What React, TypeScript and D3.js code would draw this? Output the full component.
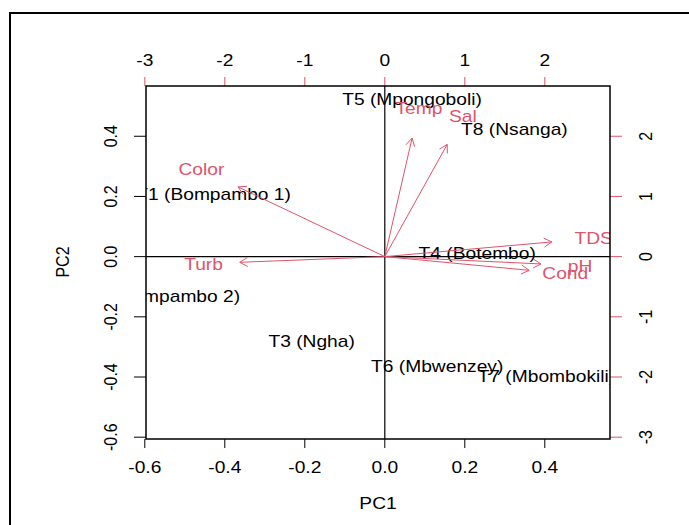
import React, {FC, useEffect, useRef} from 'react';
import * as d3 from 'd3';

// site scores (PC1, PC2)
const sites = ['T1 (Bompambo 1)', 'T2 (Bompambo 2)', 'T3 (Ngha)', 'T4 (Botembo)', 'T5 (Mpongoboli)', 'T6 (Mbwenzey)', 'T7 (Mbombokili)', 'T8 (Nsanga)'];
const sitePC1 = [-0.428, -0.555, -0.183, 0.231, 0.068, 0.131, 0.404, 0.324];
const sitePC2 = [0.209, -0.132, -0.281, 0.01, 0.522, -0.364, -0.398, 0.422];

// variable loadings (label positions, secondary axes)
const vars = ['Temp', 'Sal', 'TDS', 'pH', 'Cond', 'Color', 'Turb'];
const varPC1 = [0.426, 0.975, 2.61, 2.44, 2.256, -2.293, -2.266];
const varPC2 = [2.46, 2.33, 0.305, -0.152, -0.284, 1.447, -0.118];

const xTicks = [-0.6, -0.4, -0.2, 0.0, 0.2, 0.4];
const yTicks = [-0.6, -0.4, -0.2, 0.0, 0.2, 0.4];
const x2Ticks = [-3, -2, -1, 0, 1, 2];
const y2Ticks = [-3, -2, -1, 0, 1, 2];

const red = '#DF536B';
const font = '"Liberation Sans", Arial, sans-serif';
const fs = 16;
const sx = 1.2; // picture is a little wider than tall

const App: FC = () => {
  const ref = useRef<SVGSVGElement>(null);
  const W = 689, H = 525;
  const box = {left: 146, right: 610, top: 86, bottom: 439};

  useEffect(() => {
    const svg = d3.select(ref.current);
    svg.selectAll('*').remove();

    const x = d3.scaleLinear().domain([-0.597, 0.563]).range([box.left, box.right]);
    const y = d3.scaleLinear().domain([-0.606, 0.567]).range([box.bottom, box.top]);
    const x2 = d3.scaleLinear().domain([-0.597 * 5, 0.563 * 5]).range([box.left, box.right]);
    const y2 = d3.scaleLinear().domain([-0.606 * 5, 0.567 * 5]).range([box.bottom, box.top]);

    const label = (g: any, tx: number, ty: number, s: string, color: string, rot = 0) =>
      g.append('text')
        .attr('transform', `translate(${tx},${ty}) scale(${sx},1) rotate(${rot})`)
        .attr('text-anchor', 'middle')
        .attr('dy', '0.36em')
        .attr('font-family', font)
        .attr('font-size', fs)
        .attr('fill', color)
        .text(s);

    // outer frame
    svg.append('rect')
      .attr('x', 10).attr('y', 13).attr('width', 700).attr('height', 540)
      .attr('fill', 'none').attr('stroke', '#000').attr('stroke-width', 2);

    svg.append('defs').append('clipPath').attr('id', 'plotclip')
      .append('rect')
      .attr('x', box.left).attr('y', box.top)
      .attr('width', box.right - box.left).attr('height', box.bottom - box.top);

    const plot = svg.append('g').attr('clip-path', 'url(#plotclip)');

    // site labels
    sites.forEach((s, i) => label(plot, x(sitePC1[i]), y(sitePC2[i]), s, '#000'));

    // zero lines
    plot.append('line')
      .attr('x1', box.left).attr('x2', box.right).attr('y1', y(0)).attr('y2', y(0))
      .attr('stroke', '#000').attr('stroke-width', 1.2);
    plot.append('line')
      .attr('x1', x(0)).attr('x2', x(0)).attr('y1', box.top).attr('y2', box.bottom)
      .attr('stroke', '#000').attr('stroke-width', 1.2);

    // arrows to 0.8 of loadings
    const headLen = 9;
    const ang = Math.PI / 6;
    vars.forEach((v, i) => {
      const x0 = x2(0), y0 = y2(0);
      const x1 = x2(varPC1[i] * 0.8), y1 = y2(varPC2[i] * 0.8);
      const a = Math.atan2(y1 - y0, x1 - x0);
      const path = d3.path();
      path.moveTo(x0, y0);
      path.lineTo(x1, y1);
      path.moveTo(x1 - headLen * Math.cos(a - ang), y1 - headLen * Math.sin(a - ang));
      path.lineTo(x1, y1);
      path.lineTo(x1 - headLen * Math.cos(a + ang), y1 - headLen * Math.sin(a + ang));
      plot.append('path').attr('d', path.toString())
        .attr('fill', 'none').attr('stroke', red).attr('stroke-width', 1);
      label(plot, x2(varPC1[i]), y2(varPC2[i]), v, red);
    });

    // axes
    const axes = svg.append('g');
    xTicks.forEach(t => {
      axes.append('line').attr('x1', x(t)).attr('x2', x(t)).attr('y1', box.bottom).attr('y2', box.bottom + 9)
        .attr('stroke', '#000');
      label(axes, x(t), 467, d3.format('.1f')(t).replace('−', '-'), '#000');
    });
    yTicks.forEach(t => {
      axes.append('line').attr('x1', box.left - 12).attr('x2', box.left).attr('y1', y(t)).attr('y2', y(t))
        .attr('stroke', '#000');
      label(axes, 110, y(t), d3.format('.1f')(t).replace('−', '-'), '#000', -90);
    });
    x2Ticks.forEach(t => {
      axes.append('line').attr('x1', x2(t)).attr('x2', x2(t)).attr('y1', box.top - 9).attr('y2', box.top)
        .attr('stroke', red);
      label(axes, x2(t), 60, String(t), '#000');
    });
    y2Ticks.forEach(t => {
      axes.append('line').attr('x1', box.right).attr('x2', box.right + 12).attr('y1', y2(t)).attr('y2', y2(t))
        .attr('stroke', red);
      label(axes, 645, y2(t), String(t), '#000', -90);
    });

    axes.append('rect')
      .attr('x', box.left).attr('y', box.top)
      .attr('width', box.right - box.left).attr('height', box.bottom - box.top)
      .attr('fill', 'none').attr('stroke', '#000').attr('stroke-width', 1.5);

    label(axes, 378, 503, 'PC1', '#000');
    label(axes, 62, 262, 'PC2', '#000', -90);
  }, []);

  return (
    <svg ref={ref} width={W} height={H}
      style={{position: 'absolute', left: 0, top: 0, background: '#fff'}} />
  );
};

export default App;
